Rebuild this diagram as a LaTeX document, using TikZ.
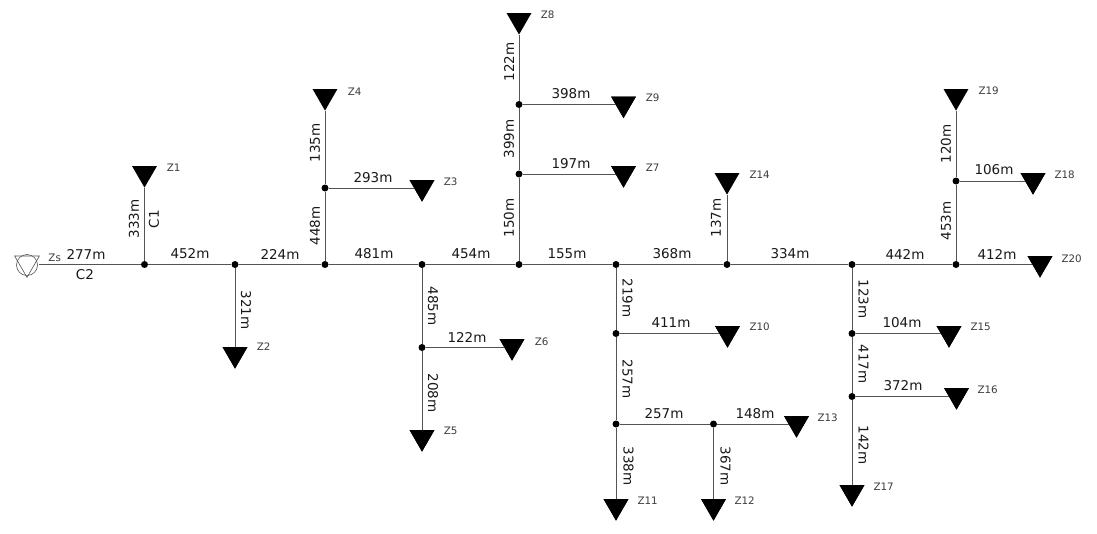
\documentclass[tikz,border=0pt]{standalone}
\usepackage{fontspec}
\setmainfont{DejaVu Sans}
\usetikzlibrary{shapes.geometric}
\definecolor{wire}{gray}{0.33}
\definecolor{ink}{gray}{0.1}
\tikzset{
 wirepath/.style={draw=wire,line width=0.9pt},
 dot/.style={circle,fill=black,inner sep=0pt,minimum size=7pt},
 load/.style={regular polygon,regular polygon sides=3,shape border rotate=180,fill=black,inner sep=0pt,minimum size=28.5pt,anchor=corner 1},
 len/.style={font=\fontsize{13.5}{15}\selectfont,text=ink,inner sep=0pt},
 vup/.style={len,rotate=90},
 vdn/.style={len,rotate=-90},
 zed/.style={font=\fontsize{10.3}{12}\selectfont,text=ink!85!white,inner sep=0pt,xshift=0.7pt,yshift=-0.7pt},
}
\begin{document}
\begin{tikzpicture}[x=1pt,y=-1pt]
\useasboundingbox (0,0) rectangle (1097,533);
\fill[white] (0,0) rectangle (1097,533);
% junctions
\node[dot] (j1) at (144.5,264.5) {};
\node[dot] (j2) at (235,264.5) {};
\node[dot] (j3) at (325,264.5) {};
\node[dot] (j4) at (422,264.5) {};
\node[dot] (j5) at (519,264.5) {};
\node[dot] (j6) at (616,264.5) {};
\node[dot] (j7) at (727,264.5) {};
\node[dot] (j8) at (852,264.5) {};
\node[dot] (j9) at (956,264.5) {};
\node[dot] (ja) at (325,188) {};
\node[dot] (jb) at (422,347.5) {};
\node[dot] (jc) at (519,104.5) {};
\node[dot] (jd) at (519,174) {};
\node[dot] (je) at (616,333.5) {};
\node[dot] (jf) at (616,424) {};
\node[dot] (jg) at (713.5,424) {};
\node[dot] (jh) at (852,333.5) {};
\node[dot] (ji) at (852,396.5) {};
\node[dot] (jj) at (956,181) {};
% loads
\node[load] (z1) at (144.5,188) {};
\node[load] (z2) at (235,369) {};
\node[load] (z3) at (422,202) {};
\node[load] (z4) at (325,111) {};
\node[load] (z5) at (422,452) {};
\node[load] (z6) at (512,361) {};
\node[load] (z7) at (623.5,188) {};
\node[load] (z8) at (519,35) {};
\node[load] (z9) at (623.5,118.5) {};
\node[load] (z10) at (727.5,348) {};
\node[load] (z11) at (616,521) {};
\node[load] (z12) at (713.5,521) {};
\node[load] (z13) at (796.5,438) {};
\node[load] (z14) at (727,195) {};
\node[load] (z15) at (949,348) {};
\node[load] (z16) at (956.5,410) {};
\node[load] (z17) at (852,507) {};
\node[load] (z18) at (1033,195) {};
\node[load] (z19) at (956,111) {};
\node[load] (z20) at (1040,278) {};
% source
\node[circle,draw=wire,line width=0.6pt,inner sep=0pt,minimum size=21pt] (srcring) at (27,265) {};
\node[regular polygon,regular polygon sides=3,shape border rotate=180,draw=wire,line width=0.6pt,inner sep=0pt,minimum size=28.5pt,anchor=corner 1] (src) at (27,278) {};
\coordinate (srcout) at (39,264.5);
% wires
\path[wirepath] (srcout) -- (j1) -- (j2) -- (j3) -- (j4) -- (j5) -- (j6) -- (j7) -- (j8) -- (j9);
\path[wirepath] (j9) -- (j9 -| z20.center);
\path[wirepath] (j1) -- (z1.corner 1);
\path[wirepath] (j2) -- (z2.center);
\path[wirepath] (j3) -- (ja) -- (z4.corner 1);
\path[wirepath] (ja) -- (ja -| z3.center);
\path[wirepath] (j4) -- (jb) -- (z5.center);
\path[wirepath] (jb) -- (jb -| z6.center);
\path[wirepath] (j5) -- (jd) -- (jc) -- (z8.corner 1);
\path[wirepath] (jc) -- (jc -| z9.center);
\path[wirepath] (jd) -- (jd -| z7.center);
\path[wirepath] (j7) -- (z14.corner 1);
\path[wirepath] (j6) -- (je) -- (jf) -- (z11.center);
\path[wirepath] (je) -- (je -| z10.center);
\path[wirepath] (jf) -- (jg) -- (jg -| z13.center);
\path[wirepath] (jg) -- (z12.center);
\path[wirepath] (j8) -- (jh) -- (ji) -- (z17.center);
\path[wirepath] (jh) -- (jh -| z15.center);
\path[wirepath] (ji) -- (ji -| z16.center);
\path[wirepath] (j9) -- (jj) -- (z19.corner 1);
\path[wirepath] (jj) -- (jj -| z18.center);
% cover wire ends with the load bodies
\foreach \n/\x/\y in {z2/235/369,z3/422/202,z5/422/452,z6/512/361,z7/623.5/188,z9/623.5/118.5,z10/727.5/348,z11/616/521,z12/713.5/521,z13/796.5/438,z15/949/348,z16/956.5/410,z17/852/507,z18/1033/195,z20/1040/278}
  \node[load] (\n t) at (\x,\y) {};
% horizontal lengths
\node[len] (l1) at (86,254) {277m};
\node[len] (l2) at (190,254) {452m};
\node[len] (l3) at (280,254) {224m};
\node[len] (l4) at (374,254) {481m};
\node[len] (l5) at (471,254) {454m};
\node[len] (l6) at (567,254) {155m};
\node[len] (l7) at (672,254) {368m};
\node[len] (l8) at (790,254) {334m};
\node[len] (l9) at (905,254) {442m};
\node[len] (l10) at (997,254) {412m};
\node[len] (l11) at (373,178) {293m};
\node[len] (l12) at (467,337) {122m};
\node[len] (l13) at (571,94) {398m};
\node[len] (l14) at (571,164) {197m};
\node[len] (l15) at (671,323) {411m};
\node[len] (l16) at (664,414) {257m};
\node[len] (l17) at (755,414) {148m};
\node[len] (l18) at (902,323) {104m};
\node[len] (l19) at (903,386) {372m};
\node[len] (l20) at (994,170) {106m};
\node[len] (c2) at (85,275) {C2};
% vertical lengths
\node[vup] (v1) at (134,219) {333m};
\node[vup] (c1) at (154,219) {C1};
\node[vdn] (v2) at (246,310) {321m};
\node[vup] (v3) at (315,143) {135m};
\node[vup] (v4) at (315,226) {448m};
\node[vdn] (v5) at (433,306) {485m};
\node[vdn] (v6) at (433,393) {208m};
\node[vup] (v7) at (509,62) {122m};
\node[vup] (v8) at (509,139) {399m};
\node[vup] (v9) at (509,218) {150m};
\node[vdn] (v10) at (627.5,298) {219m};
\node[vdn] (v11) at (627.5,379) {257m};
\node[vdn] (v12) at (628.5,466) {338m};
\node[vdn] (v13) at (725.5,466) {367m};
\node[vup] (v14) at (716,218) {137m};
\node[vdn] (v15) at (863.5,299) {123m};
\node[vdn] (v16) at (863.5,364) {417m};
\node[vdn] (v17) at (863.5,445) {142m};
\node[vup] (v18) at (946,144) {120m};
\node[vup] (v19) at (946,221) {453m};
% load labels
\node[zed] (t1) at (173,167) {Z1};
\node[zed] (t2) at (263,346) {Z2};
\node[zed] (t3) at (450,181) {Z3};
\node[zed] (t4) at (354,91) {Z4};
\node[zed] (t5) at (450,430) {Z5};
\node[zed] (t6) at (541,341) {Z6};
\node[zed] (t7) at (652,167) {Z7};
\node[zed] (t8) at (547,14) {Z8};
\node[zed] (t9) at (652,97) {Z9};
\node[zed] (t10) at (759,326) {Z10};
\node[zed] (t11) at (647,500) {Z11};
\node[zed] (t12) at (744,500) {Z12};
\node[zed] (t13) at (827,417) {Z13};
\node[zed] (t14) at (759,174) {Z14};
\node[zed] (t15) at (980,326) {Z15};
\node[zed] (t16) at (987,389) {Z16};
\node[zed] (t17) at (883,486) {Z17};
\node[zed] (t18) at (1064,174) {Z18};
\node[zed] (t19) at (988,90) {Z19};
\node[zed] (t20) at (1071,258) {Z20};
\node[zed] (ts) at (54,257) {Zs};
\end{tikzpicture}
\end{document}
